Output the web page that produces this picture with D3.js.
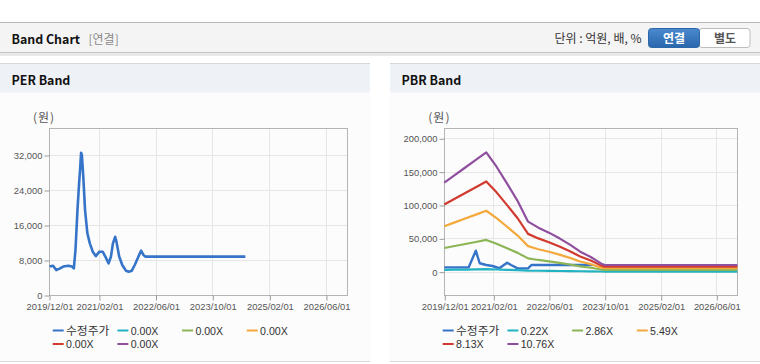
<!DOCTYPE html>
<html><head><meta charset="utf-8">
<script src="https://cdn.jsdelivr.net/npm/d3@7"></script>
<style>body{margin:0;background:#fff}svg{display:block}</style>
</head><body>
<svg id="c" width="760" height="364"></svg>
<script>
// ---- data ----
const tickDates = ["2019-12-01","2021-02-01","2022-06-01","2023-10-01","2025-02-01","2026-06-01"];
const tickLabels = ["2019/12/01","2021/02/01","2022/06/01","2023/10/01","2025/02/01","2026/06/01"];
const xDomain = ["2019-12-01","2026-12-01"];
const perYTicks = [0,8000,16000,24000,32000];
const pbrYTicks = [0,50000,100000,150000,200000];

const perPriceDates = ["2019-12-05","2020-01-05","2020-02-01","2020-03-05","2020-04-01","2020-05-15","2020-06-15","2020-07-01","2020-07-15","2020-08-01","2020-08-15","2020-08-25","2020-09-01","2020-09-08","2020-09-20","2020-10-05","2020-10-25","2020-11-15","2020-12-10","2021-01-05","2021-02-05","2021-03-05","2021-03-28","2021-04-25","2021-05-15","2021-06-01","2021-06-20","2021-07-01","2021-07-25","2021-08-20","2021-09-20","2021-10-15","2021-11-10","2021-12-05","2022-01-05","2022-01-28","2022-02-18","2022-03-08","2024-07-10"];
const perPriceValues = [6500,6700,5700,6100,6500,6700,6500,6100,10300,19400,25500,29300,32500,32000,27000,19400,14100,11800,9900,8900,9900,9900,8760,7240,8760,11800,13300,12200,8760,6860,5560,5330,5560,6860,8760,10130,9140,8760,8760];
const perLegend = ["수정주가","0.00X","0.00X","0.00X","0.00X","0.00X"];

const pbrPriceDates = ["2019-12-01","2020-07-01","2020-09-01","2020-10-05","2020-12-01","2021-01-25","2021-03-25","2021-06-01","2021-07-05","2021-09-01","2021-12-01","2022-01-01","2023-06-20"];
const pbrPriceValues = [6500,6500,31500,12600,10000,8500,5100,13500,10000,5000,5000,10000,10000];

const pbrBandDates = ["2019-12-01","2020-03-01","2020-06-01","2020-09-01","2020-12-01","2021-03-01","2021-06-01","2021-09-01","2021-12-01","2022-03-01","2022-06-01","2022-09-01","2022-12-01","2023-03-01","2023-06-01","2023-09-01","2023-10-01","2026-12-01"];
const pbrBand022  = [2730,2960,3190,3430,3660,3220,2700,2170,1530,1350,1200,1020,830,610,450,250,200,200];
const pbrBand286  = [35460,38490,41520,44550,47580,41840,35090,28170,19930,17540,15550,13290,10770,7970,5850,3190,2660,2660];
const pbrBand549  = [68070,73880,79700,85510,91330,80310,67350,54080,38270,33680,29850,25510,20660,15310,11230,6120,5100,5100];
const pbrBand813  = [100800,109400,118000,126600,135250,118930,99740,80090,56670,49870,44200,37780,30600,22670,16630,9060,7550,7550];
const pbrBand1076 = [133400,144800,156200,167600,179000,157400,132000,106000,75000,66000,58500,50000,40500,30000,22000,12000,10000,10000];
const pbrLegend = ["수정주가","0.22X","2.86X","5.49X","8.13X","10.76X"];

const seriesColors = ["#3574c8","#22b2c2","#8cb555","#f3a93c","#d13a2e","#8f4f9f"];

// ---- page chrome ----
const svg = d3.select("#c");
const parse = d3.timeParse("%Y-%m-%d");
const KR = "'Noto Sans CJK KR','Noto Sans',sans-serif";
const LAT = "'Liberation Sans',Arial,sans-serif";

svg.append("rect").attr("x",0).attr("y",0).attr("width",760).attr("height",364).attr("fill","#fff");
// top header bar
svg.append("rect").attr("x",0).attr("y",53).attr("width",760).attr("height",3).attr("fill","#e8e8e8");
svg.append("rect").attr("x",0).attr("y",22).attr("width",760).attr("height",31).attr("fill","#f4f4f4");
svg.append("line").attr("x1",0).attr("x2",760).attr("y1",22.5).attr("y2",22.5).attr("stroke","#b8b8b8");
svg.append("line").attr("x1",0).attr("x2",760).attr("y1",52.5).attr("y2",52.5).attr("stroke","#c4c4c4");
svg.append("text").attr("x",11.5).attr("y",43.5).attr("font-family",KR).attr("font-weight","bold")
  .attr("font-size",12.4).attr("fill","#111").text("Band Chart");
svg.append("text").attr("x",88.5).attr("y",43.5).attr("font-family",KR)
  .attr("font-size",12).attr("fill","#8a8a8a").text("[연결]");
svg.append("text").attr("x",641.5).attr("y",43).attr("text-anchor","end").attr("font-family",KR)
  .attr("font-size",12).attr("fill","#333").text("단위 : 억원, 배, %");
// buttons
const grad = svg.append("defs").append("linearGradient").attr("id","gb").attr("x1",0).attr("x2",0).attr("y1",0).attr("y2",1);
grad.append("stop").attr("offset","0%").attr("stop-color","#4a8ad0");
grad.append("stop").attr("offset","100%").attr("stop-color","#2a66ab");
svg.append("rect").attr("x",699).attr("y",28.5).attr("width",51).attr("height",19).attr("rx",3).attr("fill","#fff").attr("stroke","#bcbcbc");
svg.append("rect").attr("x",648.5).attr("y",28.5).attr("width",51).attr("height",19).attr("rx",3).attr("fill","url(#gb)").attr("stroke","#2d67a8");
svg.append("text").attr("x",674).attr("y",42.5).attr("text-anchor","middle").attr("font-family",KR).attr("font-weight","bold")
  .attr("font-size",12).attr("fill","#fff").text("연결");
svg.append("text").attr("x",725).attr("y",42.5).attr("text-anchor","middle").attr("font-family",KR).attr("font-weight","bold")
  .attr("font-size",12).attr("fill","#555").text("별도");

// ---- panels ----
function panel(px, pw, title) {
  svg.append("rect").attr("x",px).attr("y",64).attr("width",pw).attr("height",297).attr("fill","#fcfcfc");
  svg.append("rect").attr("x",px).attr("y",64).attr("width",pw).attr("height",28.5).attr("fill","#eef2f7");
  svg.append("line").attr("x1",px).attr("x2",px+pw).attr("y1",63.5).attr("y2",63.5).attr("stroke","#d4d8dc");
  svg.append("line").attr("x1",px).attr("x2",px+pw).attr("y1",361.5).attr("y2",361.5).attr("stroke","#d8d8d8");
  svg.append("text").attr("x",px+11.5).attr("y",85).attr("font-family",KR).attr("font-weight","bold")
    .attr("font-size",12.4).attr("fill","#111").text(title);
}
panel(0,370,"PER Band");
panel(390,370,"PBR Band");

function chart(cfg) {
  const x = d3.scaleTime().domain(xDomain.map(parse)).range([cfg.left, cfg.right]);
  const y = d3.scaleLinear().domain(cfg.yDomain).range([cfg.bottom, cfg.top]);
  const g = svg.append("g");
  // grid
  g.selectAll(".hg").data(cfg.yTicks).join("line")
    .attr("x1",cfg.left).attr("x2",cfg.right)
    .attr("y1",d=>Math.round(y(d))+0.5).attr("y2",d=>Math.round(y(d))+0.5)
    .attr("stroke","#e6e6e6");
  g.selectAll(".vg").data(tickDates).join("line")
    .attr("y1",cfg.top).attr("y2",cfg.bottom)
    .attr("x1",d=>Math.round(x(parse(d)))+0.5).attr("x2",d=>Math.round(x(parse(d)))+0.5)
    .attr("stroke","#e6e6e6");
  // frame
  g.append("rect").attr("x",Math.round(cfg.left)+0.5).attr("y",Math.round(cfg.top)+0.5)
    .attr("width",Math.round(cfg.right)-Math.round(cfg.left)).attr("height",Math.round(cfg.bottom)-Math.round(cfg.top))
    .attr("fill","none").attr("stroke","#b4b4b4");
  // axes
  const yAxis = d3.axisLeft(y).tickValues(cfg.yTicks).tickFormat(d3.format(",")).tickSize(5).tickPadding(2);
  const ya = svg.append("g").attr("transform",`translate(${Math.round(cfg.left)+0.5},0.5)`).call(yAxis);
  ya.select(".domain").remove();
  ya.selectAll("line").attr("stroke","#9a9a9a");
  ya.selectAll("text").attr("font-family",LAT).attr("font-size",9.4).attr("fill","#555");
  const xAxis = d3.axisBottom(x).tickValues(tickDates.map(parse)).tickFormat((d,i)=>tickLabels[i]).tickSize(5).tickPadding(3);
  const xa = svg.append("g").attr("transform",`translate(0.5,${Math.round(cfg.bottom)+0.5})`).call(xAxis);
  xa.select(".domain").remove();
  xa.selectAll("line").attr("stroke","#9a9a9a");
  xa.selectAll("text").attr("font-family",LAT).attr("font-size",9.4).attr("fill","#555");
  // unit label
  svg.append("text").attr("x",cfg.left-16).attr("y",122).attr("font-family",KR).attr("font-size",12)
    .attr("letter-spacing",1).attr("fill","#555").text("(원)");
  // lines
  const line = d3.line().x(d=>x(d[0])).y(d=>y(d[1]));
  cfg.series.forEach(s=>{
    const pts = s.dates.map((d,i)=>[parse(d), s.values[i]]);
    svg.append("path").datum(pts).attr("d",line).attr("fill","none")
      .attr("stroke",s.color).attr("stroke-width",s.width).attr("stroke-linejoin","round");
  });
  // legend
  cfg.legend.forEach((lab,i)=>{
    const col = i%4, row = Math.floor(i/4);
    const lx = cfg.legendX + col*64.7, ly = 330.5 + row*13.5;
    svg.append("line").attr("x1",lx).attr("x2",lx+11).attr("y1",ly).attr("y2",ly)
      .attr("stroke",seriesColors[i]).attr("stroke-width",2);
    svg.append("text").attr("x",lx+13.3).attr("y",ly+4).attr("font-family", i===0?KR:LAT)
      .attr("font-size", i===0?11.8:10.6).attr("fill","#333").text(lab);
  });
}

chart({left:49, right:347.3, top:128, bottom:295, yDomain:[0,38170], yTicks:perYTicks,
  legendX:52.7, legend:perLegend,
  series:[{dates:perPriceDates, values:perPriceValues, color:seriesColors[0], width:2.6}]});

chart({left:444.3, right:737.3, top:128.3, bottom:295, yDomain:[-35000,215000], yTicks:pbrYTicks,
  legendX:442.7, legend:pbrLegend,
  series:[
    {dates:pbrPriceDates, values:pbrPriceValues, color:seriesColors[0], width:2.4},
    {dates:pbrBandDates, values:pbrBand022, color:seriesColors[1], width:2.2},
    {dates:pbrBandDates, values:pbrBand286, color:seriesColors[2], width:2.2},
    {dates:pbrBandDates, values:pbrBand549, color:seriesColors[3], width:2.2},
    {dates:pbrBandDates, values:pbrBand813, color:seriesColors[4], width:2.2},
    {dates:pbrBandDates, values:pbrBand1076, color:seriesColors[5], width:2.2}
  ]});
</script>
</body></html>
